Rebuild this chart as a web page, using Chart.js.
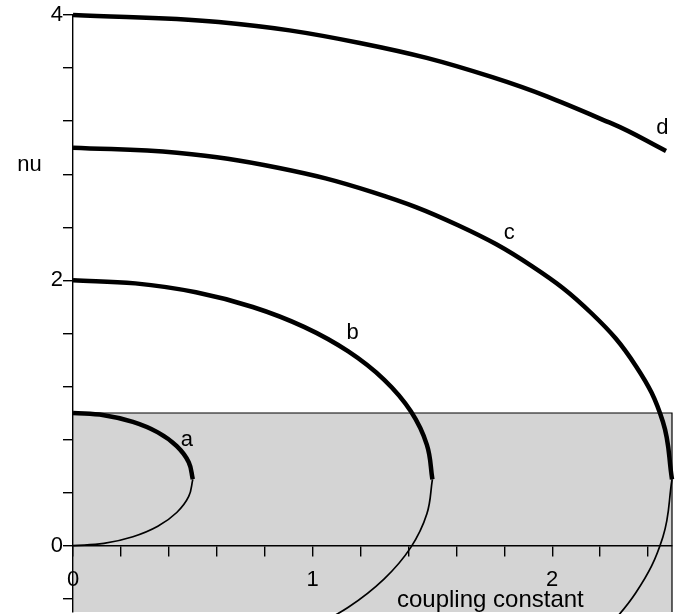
<!DOCTYPE html>
<html>
<head>
<meta charset="utf-8">
<script src="https://cdn.jsdelivr.net/npm/chart.js@4"></script>
<style>
  html, body { margin: 0; padding: 0; background: #fff; }
  canvas { display: block; }
</style>
</head>
<body>
<canvas id="chart" width="681" height="614"></canvas>
<script>
// values (coupling constant, nu)
const curveNames = ['a', 'b', 'c', 'd'];

const aUpper = [[0, 1], [0.129, 0.983], [0.25, 0.933], [0.354, 0.854], [0.433, 0.75], [0.483, 0.629], [0.5, 0.5]];
const aLower = [[0.5, 0.5], [0.483, 0.371], [0.433, 0.25], [0.354, 0.146], [0.25, 0.067], [0.129, 0.017], [0, 0]];

const bUpper = [[0, 2], [0.26, 1.977], [0.513, 1.91], [0.75, 1.799], [0.964, 1.649], [1.149, 1.464],
                [1.299, 1.25], [1.41, 1.013], [1.477, 0.76], [1.5, 0.5]];
const bLower = [[1.5, 0.5], [1.477, 0.24], [1.41, -0.013], [1.299, -0.25], [1.149, -0.464], [0.964, -0.649]];

const cUpper = [[0, 3], [0.434, 2.962], [0.855, 2.849], [1.25, 2.665], [1.607, 2.415], [1.915, 2.107],
                [2.165, 1.75], [2.349, 1.355], [2.462, 0.934], [2.5, 0.5]];
const cLower = [[2.5, 0.5], [2.462, 0.066], [2.349, -0.355], [2.165, -0.75]];

const dUpper = [[0, 4], [0.608, 3.947], [1.197, 3.789], [1.75, 3.531], [2.25, 3.181], [2.475, 2.975]];

// shaded region nu < 1
const shadeTop = [[0, 1], [2.5, 1], [2.5, -0.5]];

const xTickValues = [0, 0.2, 0.4, 0.6, 0.8, 1, 1.2, 1.4, 1.6, 1.8, 2, 2.2, 2.4];
const xTickLabels = [0, 1, 2];
const yTickValues = [-0.4, 0, 0.4, 0.8, 1.2, 1.6, 2, 2.4, 2.8, 3.2, 3.6, 4];
const yTickLabels = [0, 2, 4];

const FONT = '"Liberation Sans", Arial, Helvetica, sans-serif';

// text placed on the plot, in data units
const annotations = [
  { text: 'a', x: 0.475, y: 0.80, size: 22 },
  { text: 'b', x: 1.167, y: 1.60, size: 22 },
  { text: 'c', x: 1.821, y: 2.36, size: 22 },
  { text: 'd', x: 2.46, y: 3.15, size: 22 },
  { text: 'nu', x: -0.182, y: 2.87, size: 22 },
  { text: 'coupling constant', x: 1.742, y: -0.415, size: 24 }
];

const toXY = pts => pts.map(p => ({ x: p[0], y: p[1] }));

function curve(pts, width) {
  return {
    data: toXY(pts),
    showLine: true,
    borderColor: '#000',
    borderWidth: width,
    pointRadius: 0,
    tension: 0.4,
    fill: false,
    clip: 6,
    order: 0
  };
}

const textPlugin = {
  id: 'textLabels',
  afterDraw(chart) {
    const { ctx, scales: { x, y } } = chart;
    ctx.save();
    ctx.fillStyle = '#000';
    ctx.textAlign = 'center';
    ctx.textBaseline = 'middle';
    annotations.forEach(a => {
      ctx.font = a.size + 'px ' + FONT;
      ctx.fillText(a.text, x.getPixelForValue(a.x), y.getPixelForValue(a.y));
    });
    ctx.restore();
  }
};

new Chart(document.getElementById('chart'), {
  type: 'scatter',
  data: {
    datasets: [
      curve(aUpper, 4.5), curve(aLower, 1.7),
      curve(bUpper, 4.5), curve(bLower, 1.7),
      curve(cUpper, 4.5), curve(cLower, 1.7),
      curve(dUpper, 4.5),
      {
        data: toXY(shadeTop),
        showLine: true,
        borderColor: '#000',
        borderWidth: 1.2,
        backgroundColor: '#d4d4d4',
        pointRadius: 0,
        tension: 0,
        fill: 'start',
        clip: 2,
        order: 10
      }
    ]
  },
  options: {
    responsive: false,
    animation: false,
    devicePixelRatio: 1,
    layout: { padding: { top: 15, right: 9, bottom: 2, left: 0 } },
    plugins: { legend: { display: false }, tooltip: { enabled: false } },
    scales: {
      x: {
        type: 'linear',
        min: 0,
        max: 2.5,
        position: { y: 0 },
        grid: { z: 1, drawOnChartArea: false, drawTicks: true, tickLength: 10, color: '#000', lineWidth: 1.4 },
        border: { z: 1, display: true, color: '#000', width: 1.4 },
        ticks: {
          z: 1,
          autoSkip: false,
          maxRotation: 0,
          padding: 11,
          color: '#000',
          font: { family: FONT, size: 22 },
          callback: v => xTickLabels.includes(v) ? String(v) : ''
        },
        afterBuildTicks: s => { s.ticks = xTickValues.map(v => ({ value: v })); },
        afterFit: s => { s.paddingLeft = 0; s.paddingRight = 0; }
      },
      y: {
        type: 'linear',
        min: -0.5,
        max: 4,
        position: 'left',
        grid: { z: 1, drawOnChartArea: false, drawTicks: true, tickLength: 10, color: '#000', lineWidth: 1.4 },
        border: { z: 1, display: true, color: '#000', width: 1.4 },
        ticks: {
          z: 1,
          autoSkip: false,
          padding: 0,
          color: '#000',
          font: { family: FONT, size: 22 },
          callback: v => yTickLabels.includes(v) ? String(v) : ''
        },
        afterBuildTicks: s => { s.ticks = yTickValues.map(v => ({ value: v })); },
        afterFit: s => { s.width = 73; s.paddingTop = 0; s.paddingBottom = 0; }
      }
    }
  },
  plugins: [textPlugin]
});
</script>
</body>
</html>
